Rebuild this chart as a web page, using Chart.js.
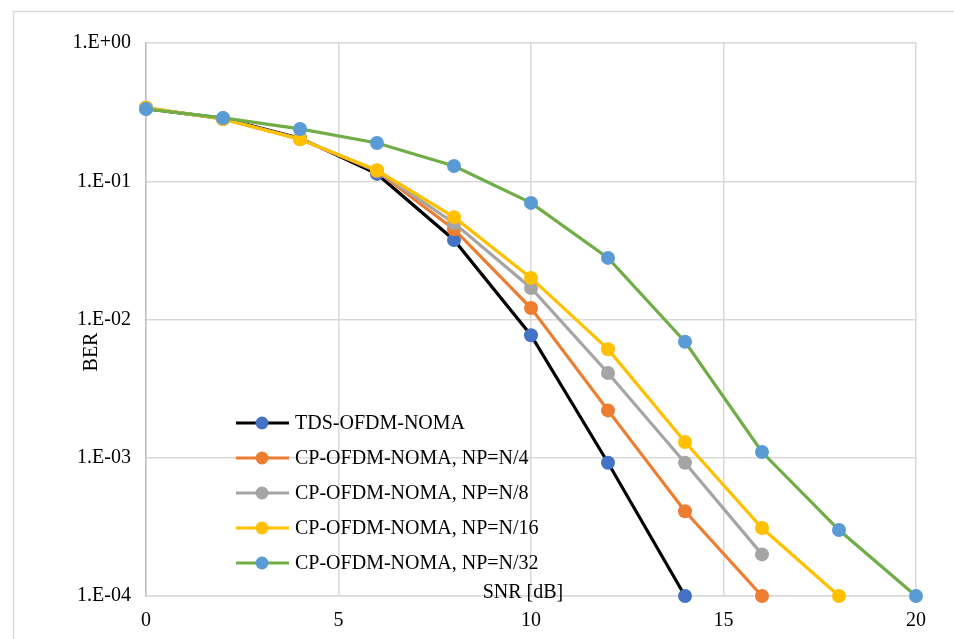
<!DOCTYPE html>
<html>
<head>
  <title>BER vs SNR</title>
  <script src="https://cdn.jsdelivr.net/npm/chart.js@4/dist/chart.umd.min.js"></script>
  <style>
    body { margin: 0; background: #fff; }
    #wrap { width: 954px; height: 639px; position: relative; }
  </style>
</head>
<body>
  <div id="wrap"><canvas id="berChart"></canvas></div>

  <script>
    // SNR points in dB
    const snr = [0, 2, 4, 6, 8, 10, 12, 14, 16, 18, 20];

    // BER per scheme (null where the curve has ended)
    const tdsOfdm   = [0.335, 0.285, 0.205, 0.113, 0.0376, 0.0077, 0.00092, 0.0001, null, null, null];
    const cpN4      = [0.34, 0.282, 0.202, 0.118, 0.045, 0.0121, 0.0022, 0.00041, 0.0001, null, null];
    const cpN8      = [0.34, 0.282, 0.203, 0.119, 0.0499, 0.0169, 0.0041, 0.00092, 0.0002, null, null];
    const cpN16     = [0.34, 0.282, 0.201, 0.12, 0.055, 0.020, 0.0061, 0.0013, 0.00031, 0.0001, null];
    const cpN32     = [0.333, 0.287, 0.239, 0.189, 0.129, 0.0697, 0.0279, 0.0069, 0.0011, 0.0003, 0.0001];

    const seriesNames = [
      'TDS-OFDM-NOMA',
      'CP-OFDM-NOMA, NP=N/4',
      'CP-OFDM-NOMA, NP=N/8',
      'CP-OFDM-NOMA, NP=N/16',
      'CP-OFDM-NOMA, NP=N/32'
    ];

    const yTickValues = [1e-4, 1e-3, 1e-2, 1e-1, 1];
    const yTickLabels = ['1.E-04', '1.E-03', '1.E-02', '1.E-01', '1.E+00'];
    const xTickValues = [0, 5, 10, 15, 20];

    const FONT = "'Liberation Serif', 'DejaVu Serif', serif";
    const FONT_SIZE = 20;

    const lineColors   = ['#000000', '#ED7D31', '#A5A5A5', '#FFC000', '#70AD47'];
    const markerColors = ['#4472C4', '#ED7D31', '#A5A5A5', '#FFC000', '#5B9BD5'];
    const allSeries = [tdsOfdm, cpN4, cpN8, cpN16, cpN32];

    const datasets = allSeries.map((vals, i) => ({
      label: seriesNames[i],
      data: snr.map((x, j) => vals[j] == null ? null : { x: x, y: vals[j] }).filter(p => p),
      borderColor: lineColors[i],
      backgroundColor: markerColors[i],
      pointBackgroundColor: markerColors[i],
      pointBorderColor: markerColors[i],
      pointRadius: 7,
      pointBorderWidth: 0,
      borderWidth: 3.2,
      tension: 0,
      clip: false,
      order: allSeries.length - i
    }));

    // outer frame, legend and axis titles
    const decorations = {
      id: 'decorations',
      beforeDraw(chart) {
        const ctx = chart.ctx;
        ctx.save();
        ctx.fillStyle = '#fff';
        ctx.fillRect(0, 0, chart.width, chart.height);
        ctx.strokeStyle = '#d9d9d9';
        ctx.lineWidth = 1.5;
        ctx.strokeRect(13.5, 11.5, 960, 660);
        ctx.restore();
      },
      afterDraw(chart) {
        const ctx = chart.ctx;
        ctx.save();
        ctx.fillStyle = '#000';
        ctx.font = FONT_SIZE + 'px ' + FONT;

        // x title sits just above the axis, like the original sheet
        ctx.textAlign = 'center';
        ctx.textBaseline = 'middle';
        ctx.fillText('SNR [dB]', 523, 593);

        // y title
        ctx.translate(92, 352);
        ctx.rotate(-Math.PI / 2);
        ctx.fillText('BER', 0, 0);
        ctx.restore();

        // legend drawn inside the plot area
        ctx.save();
        ctx.font = FONT_SIZE + 'px ' + FONT;
        ctx.textAlign = 'left';
        ctx.textBaseline = 'middle';
        chart.data.datasets.forEach((ds, i) => {
          const y = 423 + i * 35;
          ctx.strokeStyle = ds.borderColor;
          ctx.lineWidth = 3.2;
          ctx.beginPath();
          ctx.moveTo(236, y);
          ctx.lineTo(289, y);
          ctx.stroke();
          ctx.fillStyle = ds.pointBackgroundColor;
          ctx.beginPath();
          ctx.arc(262, y, 6.5, 0, Math.PI * 2);
          ctx.fill();
          ctx.fillStyle = '#000';
          ctx.fillText(ds.label, 295, y + 1);
        });
        ctx.restore();
      }
    };

    new Chart(document.getElementById('berChart'), {
      type: 'line',
      data: { datasets: datasets },
      plugins: [decorations],
      options: {
        responsive: true,
        maintainAspectRatio: false,
        animation: false,
        layout: { padding: { left: 0, top: 43, right: 38, bottom: 0 } },
        plugins: {
          legend: { display: false },
          tooltip: { enabled: false }
        },
        scales: {
          x: {
            type: 'linear',
            min: 0,
            max: 20,
            afterBuildTicks(scale) {
              scale.ticks = xTickValues.map(v => ({ value: v }));
            },
            afterFit(scale) { scale.height = 43; },
            grid: { color: '#d9d9d9', lineWidth: 1.5, drawTicks: false },
            border: { color: '#d9d9d9', width: 1.5 },
            ticks: {
              padding: 13,
              color: '#000',
              font: { family: FONT, size: FONT_SIZE }
            }
          },
          y: {
            type: 'logarithmic',
            min: 1e-4,
            max: 1,
            afterBuildTicks(scale) {
              scale.ticks = yTickValues.map(v => ({ value: v }));
            },
            afterFit(scale) { scale.width = 146; },
            grid: { color: '#d9d9d9', lineWidth: 1.5, drawTicks: false },
            border: { color: '#bfbfbf', width: 1.5 },
            ticks: {
              padding: 15,
              color: '#000',
              font: { family: FONT, size: FONT_SIZE },
              callback(value) {
                const k = yTickValues.findIndex(v => Math.abs(Math.log10(v) - Math.log10(value)) < 1e-6);
                return k >= 0 ? yTickLabels[k] : '';
              }
            }
          }
        }
      }
    });
  </script>
</body>
</html>
